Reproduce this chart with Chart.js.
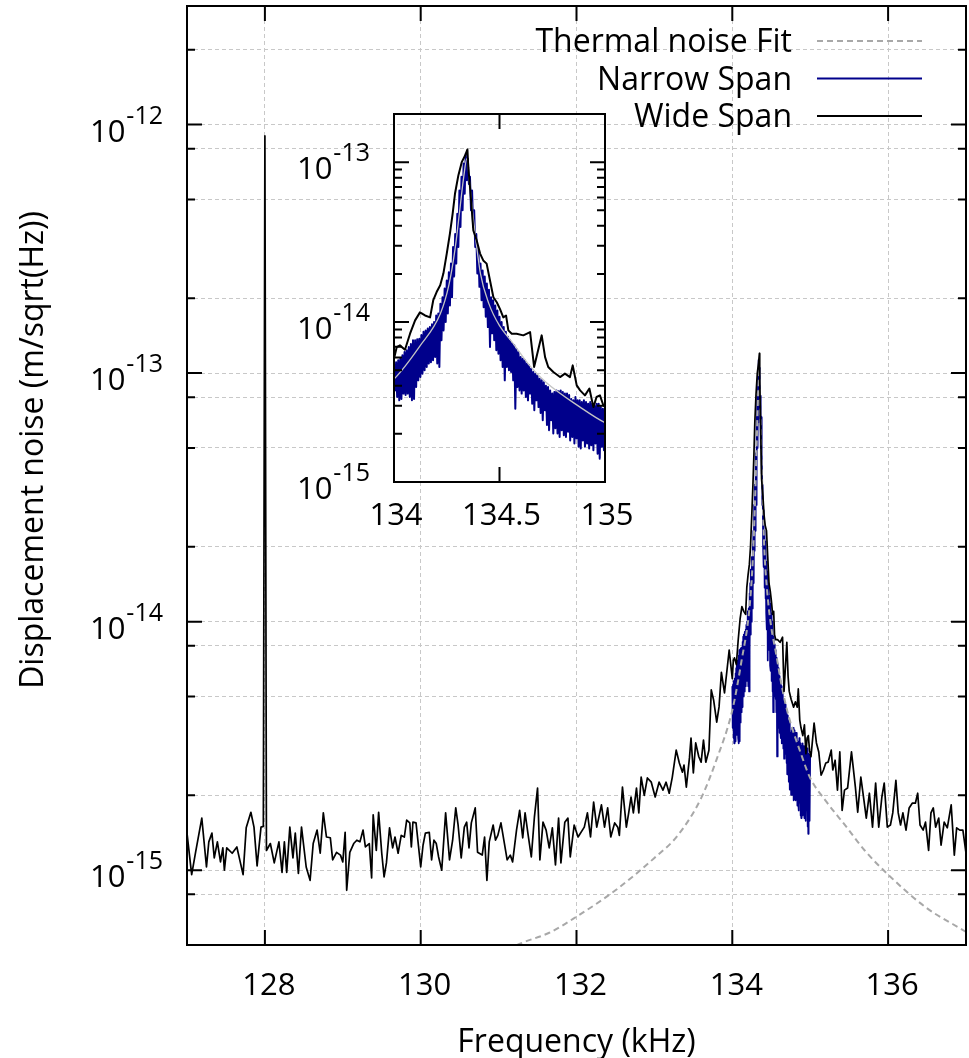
<!DOCTYPE html>
<html>
<head>
<meta charset="utf-8">
<title>Displacement noise</title>
<script src="https://cdn.jsdelivr.net/npm/chart.js@4.4.1/dist/chart.umd.min.js"></script>
<style>
  body { margin: 0; background: #fff; }
  #wrap { position: relative; width: 969px; height: 1058px; }
  #main { position: absolute; left: 0; top: 0; }
  #inset { position: absolute; left: 280px; top: 100px; }
</style>
</head>
<body>
<div id="wrap">
  <canvas id="main" width="969" height="1058"></canvas>
  <canvas id="inset" width="360" height="440"></canvas>
</div>
<script>
"use strict";

// axis setup
const xTicks = [128, 130, 132, 134, 136];
const yTicks = [8e-16, 1e-15, 2e-15, 5e-15, 8e-15, 1e-14, 2e-14, 5e-14, 8e-14, 1e-13, 2e-13, 5e-13, 8e-13, 1e-12, 2e-12];
const yLabels = [1e-15, 1e-14, 1e-13, 1e-12];
const insetXTicks = [134.5];
const insetXLabels = [134, 134.5, 135];
const insetYTicks = [2e-15, 3e-15, 4e-15, 5e-15, 6e-15, 7e-15, 8e-15, 9e-15, 1e-14,
    2e-14, 3e-14, 4e-14, 5e-14, 6e-14, 7e-14, 8e-14, 9e-14, 1e-13];
const insetYLabels = [1e-15, 1e-14, 1e-13];

const xTitle = "Frequency (kHz)";
const yTitle = "Displacement noise (m/sqrt(Hz))";
const legendOrder = ["Thermal noise Fit", "Narrow Span", "Wide Span"];

// [frequency kHz, displacement noise m/sqrt(Hz)]
const wideSpan = [
    [127.00, 1.41e-15], [127.06, 0.96e-15], [127.11, 1.18e-15], [127.19, 1.62e-15], [127.25, 1.03e-15],
    [127.28, 1.30e-15], [127.32, 1.41e-15], [127.35, 1.12e-15], [127.39, 1.30e-15], [127.43, 1.08e-15],
    [127.46, 1.23e-15], [127.48, 1.00e-15], [127.51, 1.23e-15], [127.58, 1.17e-15], [127.64, 1.24e-15],
    [127.72, 0.96e-15], [127.76, 1.48e-15], [127.82, 1.71e-15], [127.86, 1.49e-15], [127.90, 1.04e-15],
    [127.95, 1.49e-15], [127.98, 1.50e-15], [128.00, 9.0e-13], [128.02, 1.20e-15], [128.07, 1.28e-15],
    [128.12, 1.07e-15], [128.18, 1.30e-15], [128.22, 0.98e-15], [128.25, 1.30e-15], [128.28, 0.98e-15],
    [128.32, 1.49e-15], [128.36, 1.12e-15], [128.39, 1.41e-15], [128.43, 0.97e-15], [128.47, 1.49e-15],
    [128.53, 1.03e-15], [128.58, 0.91e-15], [128.62, 1.28e-15], [128.67, 1.45e-15], [128.71, 1.17e-15],
    [128.75, 1.70e-15], [128.79, 1.36e-15], [128.84, 1.35e-15], [128.87, 1.10e-15], [128.92, 1.18e-15],
    [128.97, 1.15e-15], [129.00, 1.08e-15], [129.03, 1.42e-15], [129.05, 0.83e-15], [129.09, 1.18e-15],
    [129.14, 1.28e-15], [129.18, 1.32e-15], [129.22, 1.30e-15], [129.26, 1.45e-15], [129.29, 1.24e-15],
    [129.34, 1.28e-15], [129.37, 0.93e-15], [129.39, 1.67e-15], [129.43, 1.20e-15], [129.46, 1.71e-15],
    [129.50, 1.17e-15], [129.53, 0.94e-15], [129.56, 1.07e-15], [129.60, 1.48e-15], [129.64, 1.23e-15],
    [129.67, 1.36e-15], [129.71, 1.17e-15], [129.75, 1.38e-15], [129.79, 1.36e-15], [129.82, 1.59e-15],
    [129.86, 1.55e-15], [129.88, 1.24e-15], [129.90, 1.56e-15], [129.94, 1.55e-15], [130.00, 1.03e-15],
    [130.03, 1.26e-15], [130.06, 1.41e-15], [130.11, 1.42e-15], [130.14, 1.10e-15], [130.17, 1.32e-15],
    [130.20, 1.28e-15], [130.23, 1.13e-15], [130.27, 1.00e-15], [130.32, 1.70e-15], [130.37, 1.10e-15],
    [130.41, 1.32e-15], [130.45, 1.78e-15], [130.48, 1.52e-15], [130.52, 1.12e-15], [130.56, 1.49e-15],
    [130.59, 1.56e-15], [130.62, 1.23e-15], [130.65, 1.55e-15], [130.70, 1.78e-15], [130.73, 1.18e-15],
    [130.79, 1.15e-15], [130.82, 1.36e-15], [130.85, 0.91e-15], [130.88, 1.30e-15], [130.93, 1.52e-15],
    [130.96, 1.32e-15], [130.99, 1.38e-15], [131.03, 1.55e-15], [131.11, 1.10e-15], [131.15, 1.15e-15],
    [131.18, 1.08e-15], [131.23, 1.45e-15], [131.27, 1.74e-15], [131.31, 1.35e-15], [131.34, 1.70e-15],
    [131.38, 1.38e-15], [131.42, 1.13e-15], [131.46, 1.64e-15], [131.50, 2.14e-15], [131.53, 1.10e-15],
    [131.57, 1.56e-15], [131.61, 1.45e-15], [131.65, 1.23e-15], [131.69, 1.48e-15], [131.73, 1.05e-15],
    [131.77, 1.62e-15], [131.80, 1.07e-15], [131.85, 1.56e-15], [131.89, 1.62e-15], [131.92, 1.13e-15],
    [131.97, 1.52e-15], [132.02, 1.36e-15], [132.10, 1.49e-15], [132.14, 1.70e-15], [132.18, 1.36e-15],
    [132.22, 1.88e-15], [132.26, 1.49e-15], [132.32, 1.83e-15], [132.36, 1.49e-15], [132.40, 1.78e-15],
    [132.44, 1.36e-15], [132.49, 1.55e-15], [132.53, 1.49e-15], [132.55, 1.38e-15], [132.59, 2.16e-15],
    [132.64, 1.49e-15], [132.67, 1.70e-15], [132.70, 1.97e-15], [132.73, 1.70e-15], [132.77, 2.14e-15],
    [132.80, 1.70e-15], [132.83, 2.37e-15], [132.87, 2.00e-15], [132.91, 2.35e-15], [132.96, 2.26e-15],
    [133.01, 1.97e-15], [133.06, 2.26e-15], [133.11, 2.10e-15], [133.15, 2.26e-15], [133.19, 2.04e-15],
    [133.23, 2.37e-15], [133.28, 3.04e-15], [133.32, 2.70e-15], [133.36, 2.48e-15], [133.38, 2.65e-15],
    [133.41, 2.16e-15], [133.45, 2.83e-15], [133.47, 3.40e-15], [133.50, 2.46e-15], [133.53, 3.25e-15],
    [133.57, 2.86e-15], [133.60, 2.72e-15], [133.63, 3.34e-15], [133.66, 2.72e-15], [133.70, 3.04e-15],
    [133.73, 5.31e-15], [133.76, 4.84e-15], [133.80, 3.94e-15], [133.83, 4.54e-15], [133.86, 6.25e-15],
    [133.90, 5.17e-15], [133.96, 7.69e-15], [134.000, 5.90e-15], [134.013, 6.98e-15], [134.028, 7.15e-15],
    [134.052, 6.72e-15], [134.076, 8.46e-15], [134.100, 1.025e-14], [134.123, 1.15e-14], [134.147, 1.10e-14],
    [134.171, 1.07e-14], [134.186, 1.37e-14], [134.202, 1.54e-14], [134.219, 1.70e-14], [134.234, 2.01e-14],
    [134.250, 2.68e-14], [134.265, 3.57e-14], [134.278, 4.76e-14], [134.289, 6.34e-14], [134.305, 8.26e-14],
    [134.321, 1.00e-13], [134.337, 1.10e-13], [134.348, 1.20e-13], [134.352, 9.30e-14], [134.363, 6.34e-14],
    [134.376, 3.74e-14], [134.392, 3.24e-14], [134.408, 2.68e-14], [134.423, 2.43e-14], [134.439, 2.32e-14],
    [134.455, 1.82e-14], [134.471, 1.43e-14], [134.487, 1.33e-14], [134.502, 1.21e-14], [134.518, 1.07e-14],
    [134.531, 1.10e-14], [134.542, 8.87e-15], [134.558, 8.46e-15], [134.581, 8.46e-15], [134.613, 8.26e-15],
    [134.645, 8.66e-15], [134.664, 5.24e-15], [134.679, 6.34e-15], [134.700, 8.26e-15], [134.716, 6.04e-15],
    [134.731, 5.24e-15], [134.755, 4.87e-15], [134.787, 4.53e-15], [134.810, 4.76e-15], [134.834, 4.53e-15],
    [134.847, 5.36e-15], [134.866, 4.02e-15], [134.882, 3.74e-15], [134.905, 3.48e-15], [134.926, 3.84e-15],
    [134.945, 2.94e-15], [134.960, 3.40e-15], [134.976, 3.48e-15], [134.992, 3.02e-15], [135.01, 2.86e-15],
    [135.05, 3.91e-15], [135.08, 3.25e-15], [135.11, 2.99e-15], [135.14, 2.41e-15], [135.17, 2.53e-15],
    [135.20, 2.70e-15], [135.23, 2.72e-15], [135.27, 3.04e-15], [135.29, 2.53e-15], [135.32, 2.77e-15],
    [135.35, 2.10e-15], [135.38, 2.99e-15], [135.41, 1.74e-15], [135.44, 2.10e-15], [135.48, 2.14e-15],
    [135.53, 2.99e-15], [135.58, 2.16e-15], [135.61, 1.71e-15], [135.65, 2.37e-15], [135.69, 1.91e-15],
    [135.72, 1.62e-15], [135.76, 2.04e-15], [135.80, 1.49e-15], [135.84, 2.24e-15], [135.88, 1.49e-15],
    [135.92, 1.97e-15], [135.95, 2.24e-15], [135.99, 1.49e-15], [136.03, 1.52e-15], [136.06, 1.70e-15],
    [136.10, 2.30e-15], [136.13, 1.70e-15], [136.16, 1.52e-15], [136.19, 1.70e-15], [136.23, 1.45e-15],
    [136.27, 1.78e-15], [136.31, 1.86e-15], [136.35, 1.86e-15], [136.38, 2.04e-15], [136.41, 1.52e-15],
    [136.45, 1.45e-15], [136.48, 1.56e-15], [136.52, 1.20e-15], [136.55, 1.70e-15], [136.58, 1.78e-15],
    [136.61, 1.49e-15], [136.65, 1.62e-15], [136.68, 1.26e-15], [136.72, 1.56e-15], [136.76, 1.48e-15],
    [136.81, 1.83e-15], [136.85, 1.15e-15], [136.88, 1.48e-15], [136.92, 1.45e-15], [136.96, 1.45e-15],
    [137.00, 1.17e-15]
];

const narrowSpan = [
    [134.000, 5.50e-15], [134.005, 3.74e-15], [134.010, 5.60e-15], [134.015, 3.40e-15], [134.020, 5.77e-15],
    [134.025, 3.24e-15], [134.030, 5.90e-15], [134.035, 3.30e-15], [134.040, 6.20e-15], [134.045, 3.57e-15],
    [134.050, 6.50e-15], [134.055, 3.50e-15], [134.060, 6.66e-15], [134.065, 3.57e-15], [134.070, 6.98e-15],
    [134.075, 3.40e-15], [134.080, 7.30e-15], [134.085, 3.24e-15], [134.090, 7.69e-15], [134.095, 3.30e-15],
    [134.100, 7.69e-15], [134.105, 3.93e-15], [134.110, 7.80e-15], [134.115, 4.32e-15], [134.120, 7.87e-15],
    [134.125, 4.53e-15], [134.130, 8.30e-15], [134.135, 4.76e-15], [134.140, 8.70e-15], [134.145, 5.00e-15],
    [134.150, 8.87e-15], [134.155, 5.24e-15], [134.160, 9.10e-15], [134.165, 5.50e-15], [134.170, 9.30e-15],
    [134.175, 5.60e-15], [134.180, 9.70e-15], [134.185, 5.77e-15], [134.190, 1.00e-14], [134.195, 6.04e-15],
    [134.200, 1.10e-14], [134.205, 5.50e-15], [134.210, 1.13e-14], [134.215, 5.24e-15], [134.220, 1.30e-14],
    [134.225, 7.69e-15], [134.230, 1.43e-14], [134.235, 8.87e-15], [134.240, 1.62e-14], [134.245, 1.00e-14],
    [134.250, 1.82e-14], [134.255, 1.13e-14], [134.260, 2.05e-14], [134.265, 1.27e-14], [134.270, 2.32e-14],
    [134.275, 1.43e-14], [134.280, 2.95e-14], [134.285, 1.93e-14], [134.290, 3.55e-14], [134.295, 2.32e-14],
    [134.300, 4.76e-14], [134.305, 2.95e-14], [134.310, 6.65e-14], [134.315, 3.93e-14], [134.320, 8.10e-14],
    [134.325, 5.00e-14], [134.330, 9.80e-14], [134.335, 6.34e-14], [134.340, 1.13e-13], [134.345, 7.70e-14],
    [134.350, 1.05e-13], [134.355, 7.30e-14], [134.360, 8.10e-14], [134.365, 5.00e-14], [134.370, 6.65e-14],
    [134.375, 3.93e-14], [134.380, 5.00e-14], [134.385, 2.95e-14], [134.390, 3.55e-14], [134.395, 2.01e-14],
    [134.400, 2.81e-14], [134.405, 1.66e-14], [134.410, 2.32e-14], [134.415, 1.37e-14], [134.420, 2.10e-14],
    [134.425, 1.24e-14], [134.430, 1.93e-14], [134.435, 1.08e-14], [134.440, 1.74e-14], [134.445, 9.30e-15],
    [134.450, 1.59e-14], [134.455, 6.98e-15], [134.460, 1.43e-14], [134.465, 8.50e-15], [134.470, 1.37e-14],
    [134.475, 7.69e-15], [134.480, 1.27e-14], [134.485, 6.66e-15], [134.490, 1.18e-14], [134.495, 6.34e-15],
    [134.500, 1.08e-14], [134.505, 5.77e-15], [134.510, 1.00e-14], [134.515, 5.24e-15], [134.520, 9.30e-15],
    [134.525, 4.32e-15], [134.530, 8.70e-15], [134.535, 5.24e-15], [134.540, 8.10e-15], [134.545, 5.00e-15],
    [134.550, 7.69e-15], [134.555, 4.88e-15], [134.560, 7.40e-15], [134.565, 4.32e-15], [134.570, 7.15e-15],
    [134.575, 2.87e-15], [134.580, 6.80e-15], [134.585, 3.93e-15], [134.590, 6.50e-15], [134.595, 3.74e-15],
    [134.600, 6.04e-15], [134.605, 3.57e-15], [134.610, 5.90e-15], [134.615, 3.74e-15], [134.620, 5.77e-15],
    [134.625, 3.40e-15], [134.630, 5.50e-15], [134.635, 3.24e-15], [134.640, 5.37e-15], [134.645, 3.57e-15],
    [134.650, 5.10e-15], [134.655, 3.09e-15], [134.660, 4.88e-15], [134.665, 2.81e-15], [134.670, 4.76e-15],
    [134.675, 3.24e-15], [134.680, 4.64e-15], [134.685, 2.94e-15], [134.690, 4.42e-15], [134.695, 2.70e-15],
    [134.700, 4.32e-15], [134.705, 2.43e-15], [134.710, 4.20e-15], [134.715, 2.81e-15], [134.720, 4.00e-15],
    [134.725, 2.27e-15], [134.730, 3.93e-15], [134.735, 2.11e-15], [134.740, 3.74e-15], [134.745, 2.43e-15],
    [134.750, 3.57e-15], [134.755, 2.01e-15], [134.760, 3.65e-15], [134.765, 2.17e-15], [134.770, 3.74e-15],
    [134.775, 2.01e-15], [134.780, 3.70e-15], [134.785, 1.91e-15], [134.790, 3.74e-15], [134.795, 2.11e-15],
    [134.800, 3.65e-15], [134.805, 1.96e-15], [134.810, 3.57e-15], [134.815, 1.91e-15], [134.820, 3.57e-15],
    [134.825, 2.06e-15], [134.830, 3.50e-15], [134.835, 1.82e-15], [134.840, 3.30e-15], [134.845, 1.91e-15],
    [134.850, 3.24e-15], [134.855, 1.74e-15], [134.860, 3.40e-15], [134.865, 1.87e-15], [134.870, 3.24e-15],
    [134.875, 1.66e-15], [134.880, 3.24e-15], [134.885, 1.62e-15], [134.890, 3.16e-15], [134.895, 1.82e-15],
    [134.900, 3.24e-15], [134.905, 1.66e-15], [134.910, 3.16e-15], [134.915, 1.74e-15], [134.920, 3.09e-15],
    [134.925, 1.62e-15], [134.930, 3.16e-15], [134.935, 1.70e-15], [134.940, 3.09e-15], [134.945, 1.58e-15],
    [134.950, 3.00e-15], [134.955, 1.74e-15], [134.960, 3.09e-15], [134.965, 1.50e-15], [134.970, 3.09e-15],
    [134.975, 1.40e-15], [134.980, 2.94e-15], [134.985, 1.66e-15], [134.990, 2.87e-15], [134.995, 1.58e-15],
    [135.000, 2.94e-15]
];

const thermalFit = [
    [131.0, 4.6e-16], [131.3, 5.1e-16], [131.65, 5.6e-16], [132.0, 6.5e-16], [132.5, 8.3e-16],
    [133.0, 1.12e-15], [133.3, 1.38e-15], [133.6, 1.95e-15], [133.8, 2.8e-15], [134.0, 4.4e-15],
    [134.12, 7.0e-15], [134.22, 1.13e-14], [134.26, 1.7e-14], [134.29, 2.9e-14], [134.31, 4.8e-14],
    [134.33, 8.0e-14], [134.345, 1.05e-13], [134.36, 7.0e-14], [134.38, 4.0e-14], [134.41, 2.0e-14],
    [134.45, 1.3e-14], [134.50, 9.5e-15], [134.56, 7.5e-15], [134.64, 5.4e-15], [134.72, 4.2e-15],
    [134.88, 2.95e-15], [135.0, 2.35e-15], [135.2, 1.9e-15], [135.46, 1.5e-15], [135.7, 1.2e-15],
    [136.0, 9.6e-16], [136.48, 7.1e-16], [137.0, 5.65e-16]
];

const FONT = '"Open Sans", "DejaVu Sans", sans-serif';

function toPoints(pairs) {
    return pairs.map(([f, v]) => ({x: f, y: v}));
}

function isDecade(v) {
    let l = Math.log10(v);
    return Math.abs(l - Math.round(l)) < 1e-6;
}

// frame, inward ticks and tick labels (10 with a superscript exponent)
const axisFrame = {
    id: "axisFrame",
    afterDatasetsDraw(chart, args, o) {
        const {ctx, chartArea: a, scales: {x, y}} = chart;
        ctx.save();
        ctx.strokeStyle = "#000";
        ctx.lineWidth = 2;
        ctx.setLineDash([]);
        ctx.beginPath();
        o.xTicks.forEach(v => {
            let px = x.getPixelForValue(v);
            ctx.moveTo(px, a.bottom);
            ctx.lineTo(px, a.bottom - o.major);
            ctx.moveTo(px, a.top);
            ctx.lineTo(px, a.top + o.major);
        });
        o.yTicks.forEach(v => {
            let py = y.getPixelForValue(v);
            let len = isDecade(v) ? o.major : o.minor;
            ctx.moveTo(a.left, py);
            ctx.lineTo(a.left + len, py);
            ctx.moveTo(a.right, py);
            ctx.lineTo(a.right - len, py);
        });
        ctx.stroke();
        ctx.strokeRect(a.left, a.top, a.right - a.left, a.bottom - a.top);

        ctx.fillStyle = "#000";
        ctx.textBaseline = "alphabetic";
        ctx.font = `31px ${FONT}`;
        ctx.textAlign = "center";
        o.xLabels.forEach(v => {
            ctx.fillText(String(v), x.getPixelForValue(v) + o.xLabelDx, a.bottom + o.xLabelDy);
        });
        o.yLabels.forEach(v => {
            let py = y.getPixelForValue(v);
            let exp = String(Math.round(Math.log10(v)));
            let right = a.left - 24;
            ctx.textAlign = "right";
            ctx.font = `25px ${FONT}`;
            ctx.fillText(exp, right, py - 1);
            let w = ctx.measureText(exp).width;
            ctx.font = `31px ${FONT}`;
            ctx.fillText("10", right - w - 1, py + 17);
        });
        ctx.restore();
    }
};

// axis titles and the legend of the main plot
const mainText = {
    id: "mainText",
    afterDraw(chart) {
        const {ctx, chartArea: a} = chart;
        ctx.save();
        ctx.fillStyle = "#000";
        ctx.font = `32px ${FONT}`;
        ctx.textBaseline = "alphabetic";
        ctx.textAlign = "center";
        ctx.fillText(xTitle, (a.left + a.right) / 2, a.bottom + 107);
        ctx.save();
        ctx.translate(a.left - 144, 450);
        ctx.rotate(-Math.PI / 2);
        ctx.fillText(yTitle, 0, 0);
        ctx.restore();

        ctx.textAlign = "right";
        legendOrder.forEach((label, i) => {
            let ds = chart.data.datasets.find(d => d.label === label);
            let rowY = a.top + 35 + i * 37.5;
            ctx.fillStyle = "#000";
            ctx.fillText(label, a.right - 174, rowY + 11);
            ctx.strokeStyle = ds.borderColor;
            ctx.lineWidth = 2;
            ctx.setLineDash(ds.borderDash || []);
            ctx.beginPath();
            ctx.moveTo(a.right - 149, rowY);
            ctx.lineTo(a.right - 44, rowY);
            ctx.stroke();
        });
        ctx.restore();
    }
};

function hiddenAxis(min, max, type, ticks, gridOn) {
    return {
        type: type,
        min: min,
        max: max,
        afterBuildTicks: (scale) => {
            scale.ticks = ticks.map(v => ({value: v}));
        },
        ticks: {display: false},
        grid: {display: gridOn, color: "#c8c8c8", lineWidth: 1, drawTicks: false},
        border: {display: false, dash: [4, 3]},
        title: {display: false}
    };
}

function datasets(wideWidth, narrowWidth, fitStyle) {
    return [{
        label: "Wide Span",
        data: toPoints(wideSpan),
        borderColor: "#000000",
        borderWidth: wideWidth,
        order: 0
    }, {
        label: "Thermal noise Fit",
        data: toPoints(thermalFit),
        borderColor: fitStyle.color,
        borderWidth: fitStyle.width,
        borderDash: fitStyle.dash,
        cubicInterpolationMode: "monotone",
        order: 1
    }, {
        label: "Narrow Span",
        data: toPoints(narrowSpan),
        borderColor: "#00008b",
        borderWidth: narrowWidth,
        order: 2
    }];
}

const common = {
    responsive: false,
    animation: false,
    events: [],
    elements: {point: {radius: 0}, line: {tension: 0, borderJoinStyle: "round"}}
};

new Chart(document.getElementById("main"), {
    type: "line",
    data: {datasets: datasets(1.7, 1.7, {color: "#a8a8a8", width: 2, dash: [6, 4]})},
    options: Object.assign({}, common, {
        layout: {padding: {left: 187, top: 6, right: 3, bottom: 113}},
        scales: {
            x: hiddenAxis(127, 137, "linear", xTicks, true),
            y: hiddenAxis(5e-16, 3e-12, "logarithmic", yTicks, true)
        },
        plugins: {
            legend: {display: false},
            tooltip: {enabled: false},
            axisFrame: {
                xTicks: xTicks, yTicks: yTicks, major: 15, minor: 8,
                xLabels: xTicks, xLabelDx: 4, xLabelDy: 50, yLabels: yLabels
            }
        }
    }),
    plugins: [axisFrame, mainText]
});

new Chart(document.getElementById("inset"), {
    type: "line",
    data: {datasets: datasets(2, 2, {color: "#c4c4c4", width: 1.3, dash: []})},
    options: Object.assign({}, common, {
        layout: {padding: {left: 114, top: 14, right: 35, bottom: 58}},
        scales: {
            x: hiddenAxis(134, 135, "linear", insetXTicks, false),
            y: hiddenAxis(1e-15, 2e-13, "logarithmic", insetYTicks, false)
        },
        plugins: {
            legend: {display: false},
            tooltip: {enabled: false},
            axisFrame: {
                xTicks: insetXTicks, yTicks: insetYTicks, major: 15, minor: 8,
                xLabels: insetXLabels, xLabelDx: 2, xLabelDy: 43, yLabels: insetYLabels
            }
        }
    }),
    plugins: [axisFrame]
});
</script>
</body>
</html>
